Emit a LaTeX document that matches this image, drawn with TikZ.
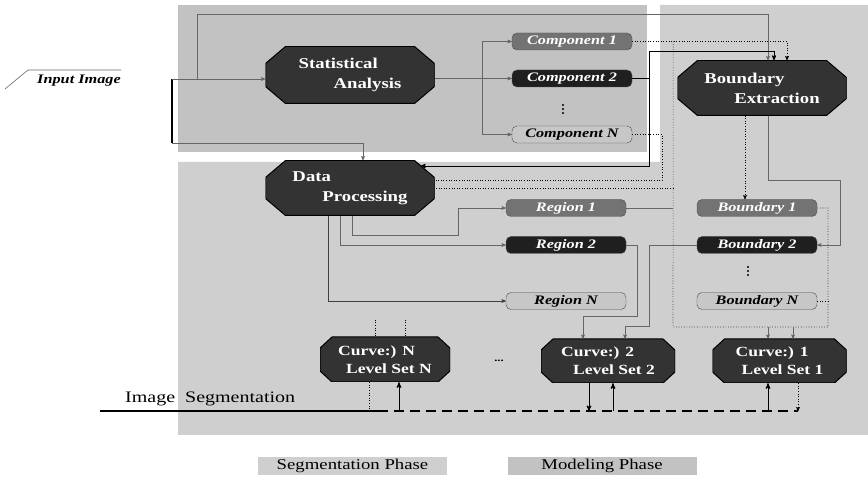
\documentclass[tikz,border=0pt]{standalone}
\usepackage{fontspec}
\setmainfont[FakeStretch=1.25]{Liberation Serif}
\usetikzlibrary{arrows, calc}
\newcommand{\chamfill}[2]{%
    \filldraw[fill=black!80, draw=black, line width=1pt]
        ([xshift=#1]path picture bounding box.north west) -- ([xshift=-#1]path picture bounding box.north east)
        -- ([yshift=-#2]path picture bounding box.north east) -- ([yshift=#2]path picture bounding box.south east)
        -- ([xshift=-#1]path picture bounding box.south east) -- ([xshift=#1]path picture bounding box.south west)
        -- ([yshift=#2]path picture bounding box.south west) -- ([yshift=-#2]path picture bounding box.north west)
        -- cycle;}
\tikzset{
    octa/.style = {rectangle, inner sep=0pt, text=white, align=left,
        minimum width=169pt, minimum height=55pt,
        path picture={\chamfill{20pt}{17pt}},
        font=\fontsize{15}{20}\selectfont\bfseries},
    curvebox/.style = {rectangle, inner sep=0pt, text=white, align=left,
        minimum width=134pt, minimum height=44pt,
        path picture={\chamfill{12pt}{11pt}},
        font=\fontsize{14}{18}\selectfont\bfseries},
    pill/.style = {rectangle, rounded corners=5pt, minimum width=120pt, minimum height=17pt,
        inner sep=0pt, draw=black!70, font=\fontsize{13}{15}\selectfont\bfseries\itshape},
    pillmid/.style = {pill, fill=black!55, text=white},
    pilldark/.style = {pill, fill=black!88, text=white},
    pilllight/.style = {pill, fill=black!22, text=black},
    dotstack/.style = {inner sep=0pt, minimum width=4pt, minimum height=12pt},
    conn/.style = {draw=black!60, line width=0.6pt},
    dotconn/.style = {draw=black, line width=0.6pt, dotted},
    thickconn/.style = {draw=black, line width=1pt},
    phase/.style = {minimum width=189pt, minimum height=18pt, inner sep=0pt,
        font=\fontsize{15}{17}\selectfont},
}

\begin{document}
\begin{tikzpicture}[x=1pt,y=1pt,>=stealth']
\useasboundingbox (0,0) rectangle (868,485);

% phase areas
\fill[black!24] (178,333) rectangle (647,480);
\fill[black!19] (178,50) -- (178,323) -- (660,323) -- (660,480) -- (868,480) -- (868,50) -- cycle;

% input
\node[font=\fontsize{13}{15}\selectfont\bfseries\itshape] (inp) at (79,404) {Input Image};
\draw[black!60, line width=0.6pt] (5,396) -- (28,415) -- (121,415);
\coordinate (bartop) at (172,406);
\coordinate (barbot) at (172,342);
\draw[line width=1.6pt] (bartop) -- (barbot);

% big blocks
\node[octa, minimum height=57pt] (stat) at (350,410) {Statistical\\\hspace*{35pt}Analysis};
\node[octa] (dp) at (350,297) {Data\\\hspace*{30pt}Processing};
\node[octa] (bext) at (762,397) {Boundary\\\hspace*{30pt}Extraction};

% components
\node[pillmid] (comp1) at (572,443.5) {Component 1};
\node[pilldark] (comp2) at (572,406.5) {Component 2};
\node[pilllight] (compN) at (572,350.5) {Component N};
\node[dotstack] (cdots) at (563,376) {};
\foreach \d in {-4,0,4}
    \fill ($(cdots)+(0,\d)$) circle[radius=1.1pt];

% regions
\node[pillmid] (reg1) at (566,277) {Region 1};
\node[pilldark] (reg2) at (566,240) {Region 2};
\node[pilllight] (regN) at (566,184) {Region N};

% boundaries
\node[pillmid] (bnd1) at (757,277) {Boundary 1};
\node[pilldark] (bnd2) at (757,240) {Boundary 2};
\node[pilllight] (bndN) at (757,184) {Boundary N};
\node[dotstack] (bdots) at (748,214) {};
\foreach \d in {-4,0,4}
    \fill ($(bdots)+(0,\d)$) circle[radius=1.1pt];

% level sets
\node[curvebox, minimum width=130pt, minimum height=45pt] (curveN) at (385,125.5)
    {Curve:) N\\\hspace*{8pt}Level Set N};
\node[curvebox] (curve2) at (608,124) {Curve:) 2\\\hspace*{12pt}Level Set 2};
\node[curvebox] (curve1) at (779.5,124) {Curve:) 1\\\hspace*{6pt}Level Set 1};
\node[font=\bfseries] (hdots) at (499,124) {...};

% input to statistics and data processing
\coordinate (toprail) at (197,471);
\draw[conn,->] (bartop) -- (bartop -| stat.west);
\draw[conn,->] (bartop -| toprail) -- (toprail) -| ($(bext.north)+(6,0)$);
\draw[conn,->] (barbot) -| ($(dp.north)+(13,0)$);

% statistics to components
\coordinate (csplit) at ($(comp2.west)+(-30,0)$);
\draw[conn,->] (comp2.west -| stat.east) -- (comp2.west);
\draw[conn,->] (csplit) |- (comp1.west);
\draw[conn,->] (csplit) |- (compN.west);

% components to boundary extraction and data processing
\coordinate (c2turn) at ($(comp2.east)+(17,0)$);
\draw[dotconn,->] (comp1.east) -| ($(bext.north)+(25,0)$);
\draw[line width=0.8pt,->] (comp2.east) -- (c2turn) -- ++(0,27.5) -| ($(bext.north)+(12,0)$);
\draw[line width=0.8pt,->] (c2turn) -- ++(0,-87.5) -- ($(dp.east)+(-14,22)$);
\draw[dotconn] (compN.east) -- ++(30,0) |- ($(dp.east)+(0,8)$);

% dotted frame round the boundaries
\coordinate (dtop) at ($(comp1.east)+(41,0)$);
\coordinate (dbot) at (673,158);
\coordinate (dcorner) at (828,158);
\draw[dotconn] (dtop) -- (dbot) -- (dcorner) -- (bnd1.east -| dcorner) -- (bnd1.east);
\draw[dotconn] (bndN.east) -- (bndN.east -| dcorner);
\draw[dotconn] (dtop |- dp.east) -- (dp.east);
\draw[conn] (reg1.east) -- (reg1.east -| dtop);
\draw[conn,->] ($(curve1.north)+(-11.5,12)$) -- ($(curve1.north)+(-11.5,0)$);
\draw[conn,->] ($(curve1.north)+(13.5,12)$) -- ($(curve1.north)+(13.5,0)$);

% boundary extraction to boundaries
\draw[dotconn,->] ($(bext.south)+(-17,0)$) -- ($(bnd1.north)+(-12,0)$);
\draw[conn,->] ($(bext.south)+(6,0)$) -- ++(0,-64.5) -| ($(bnd2.east)+(23,0)$) -- (bnd2.east);

% data processing to regions
\draw[conn,->] ($(dp.south)+(2,0)$) |- ($(reg1.west)+(-48,-27)$) |- (reg1.west);
\draw[conn,->] ($(dp.south)+(-10,0)$) |- (reg2.west);
\draw[black!75, line width=0.6pt,->] ($(dp.south)+(-22,0)$) |- (regN.west);

% into the level sets
\draw[conn,->] (reg2.east) -- ++(11,0) |- ($(curve2.north)+(-25,22)$) -- ($(curve2.north)+(-25,0)$);
\draw[conn,->] (bnd2.west) -- ++(-48,0) |- ($(curve2.north)+(17,12)$) -- ($(curve2.north)+(17,0)$);
\draw[dotconn] ($(curveN.north)+(-10,17)$) -- ($(curveN.north)+(-10,0)$);
\draw[dotconn] ($(curveN.north)+(20,17)$) -- ($(curveN.north)+(20,0)$);

% image segmentation
\coordinate (segstart) at (100,74);
\coordinate (segmid) at (378,74);
\coordinate (segend) at (798,74);
\draw[line width=1.8pt] (segstart) -- (segmid);
\draw[line width=1.8pt, dash pattern=on 10pt off 6pt] (segmid) -- (segend);
\node[font=\fontsize{16}{18}\selectfont, anchor=base west, inner sep=0pt] (segtxt) at (125,82)
    {Image\ \ Segmentation};

\draw[dotconn] ($(curveN.south)+(-16,0)$) -- ++(0,-29);
\draw[thickconn,->] ($(curveN.south)+(14,-29)$) -- ($(curveN.south)+(14,0)$);
\draw[thickconn,->] ($(curve2.south)+(-19,0)$) -- ++(0,-28);
\draw[thickconn,->] ($(curve2.south)+(5,-28)$) -- ($(curve2.south)+(5,0)$);
\draw[thickconn,->] ($(curve1.south)+(-11.5,-28)$) -- ($(curve1.south)+(-11.5,0)$);
\draw[dotconn,->] ($(curve1.south)+(18.5,0)$) -- ++(0,-28);

% legend
\node[phase, fill=black!19] (segph) at (352.5,19) {Segmentation Phase};
\node[phase, fill=black!24] (modph) at (602,19) {Modeling Phase};

\end{tikzpicture}
\end{document}
